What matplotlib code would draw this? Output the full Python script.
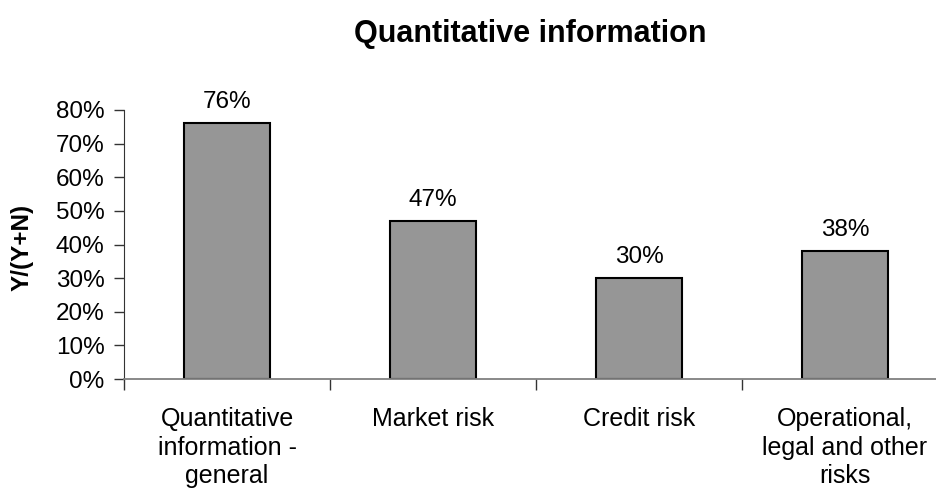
import numpy as np
import matplotlib.pyplot as plt

# chart data
categories = ['Quantitative\ninformation -\ngeneral', 'Market risk', 'Credit risk',
              'Operational,\nlegal and other\nrisks']
values = [0.76, 0.47, 0.30, 0.38]
yticks = [0.0, 0.1, 0.2, 0.3, 0.4, 0.5, 0.6, 0.7, 0.8]

plt.rcParams['font.family'] = ['Liberation Sans', 'DejaVu Sans']

fig = plt.figure(figsize=(9.36, 4.99), dpi=100)
ax = fig.add_axes([124 / 936, 1 - 379 / 499, 824 / 936, 269 / 499])

x = np.arange(len(categories))
ax.bar(x, values, width=0.415, color='#969696', edgecolor='black', linewidth=1.5)

for xi, v in zip(x, values):
    ax.text(xi, v + 0.03, '{:.0f}%'.format(v * 100), ha='center', va='bottom', fontsize=17.5)

ax.set_xlim(-0.5, 3.5)
ax.set_ylim(0, 0.8)
ax.set_yticks(yticks)
ax.set_yticklabels(['{:.0f}%'.format(t * 100) for t in yticks], fontsize=17.5)
ax.tick_params(axis='y', direction='out', length=7, width=1, color='#333333', pad=7)

# category ticks sit between the bars, labels centered under bars
ax.set_xticks(np.arange(-0.5, 3.6, 1.0))
ax.set_xticklabels([])
ax.set_xticks(x, minor=True)
ax.set_xticklabels(categories, minor=True, fontsize=18, linespacing=1.22, va='top')
ax.tick_params(axis='x', which='major', direction='out', length=8, width=1, color='#333333')
ax.tick_params(axis='x', which='minor', length=0, pad=20.5)

for s in ['top', 'right']:
    ax.spines[s].set_visible(False)
ax.spines['left'].set_color('#333333')
ax.spines['bottom'].set_color('#808080')
ax.spines['bottom'].set_linewidth(1.3)

ax.set_ylabel('Y/(Y+N)', fontsize=17.5, fontweight='bold', va='center')
ax.yaxis.set_label_coords(-0.124, 0.49)
fig.text(530 / 936, 1 - 34 / 499, 'Quantitative information', ha='center', va='center',
         fontsize=22, fontweight='bold')

fig.savefig('out.png', dpi=100)
